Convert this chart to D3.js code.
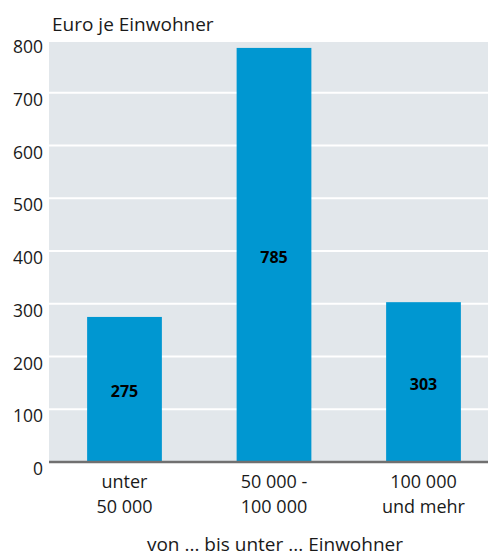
<!DOCTYPE html>
<html><head><meta charset="utf-8">
<script src="https://cdn.jsdelivr.net/npm/d3@7"></script>
<style>
html,body{margin:0;padding:0;background:#fff;}
svg{display:block;font-family:"Open Sans","Noto Sans",sans-serif;}
</style></head>
<body>
<svg id="c" width="488" height="558"></svg>
<script>
const categories = [["unter","50 000"],["50 000 -","100 000"],["100 000","und mehr"]];
const values = [275, 785, 303];
const yTicks = [0,100,200,300,400,500,600,700,800];
const yTitle = "Euro je Einwohner";
const xTitle = "von ... bis unter ... Einwohner";

const svg = d3.select("#c");
const x = d3.scaleBand().domain(d3.range(values.length)).range([49.75, 498.25]).paddingInner(0.5).paddingOuter(0.25);
const y = d3.scaleLinear().domain([0,800]).range([462, 40]);

svg.append("rect").attr("x",49).attr("y",y(800)+2).attr("width",488-49).attr("height",y(0)-y(800)-2).attr("fill","#e2e7eb");

svg.append("g").selectAll("line").data(yTicks.filter(d=>d>0)).join("line")
  .attr("x1",49).attr("x2",488).attr("y1",d=>y(d)).attr("y2",d=>y(d))
  .attr("stroke","#fff").attr("stroke-width",2);

svg.append("g").selectAll("text").data(yTicks).join("text")
  .attr("x",43).attr("y",d=>y(d)+13).attr("text-anchor","end")
  .attr("font-size",17.5).attr("fill","#1a1a1a").text(d=>d);

svg.append("g").selectAll("rect").data(values).join("rect")
  .attr("x",(d,i)=>x(i)).attr("width",x.bandwidth())
  .attr("y",d=>y(d)).attr("height",d=>y(0)-y(d)).attr("fill","#0097d1");

svg.append("g").selectAll("text").data(values).join("text")
  .attr("x",(d,i)=>x(i)+x.bandwidth()/2).attr("y",d=>(y(d)+y(0))/2+8)
  .attr("text-anchor","middle").attr("font-size",16).attr("font-weight","bold")
  .attr("fill","#000").text(d=>d);

svg.append("line").attr("x1",49).attr("x2",488).attr("y1",y(0)).attr("y2",y(0))
  .attr("stroke","#707070").attr("stroke-width",2.5);

const cat = svg.append("g").selectAll("text").data(categories).join("text")
  .attr("text-anchor","middle").attr("font-size",18).attr("fill","#1a1a1a");
cat.each(function(d,i){
  const t = d3.select(this);
  d.forEach((line,j)=>t.append("tspan").attr("x",x(i)+x.bandwidth()/2).attr("y",488+j*25).text(line));
});

svg.append("text").attr("x",52).attr("y",31).attr("font-size",19).attr("fill","#1a1a1a").text(yTitle);
svg.append("text").attr("x",x(1)+x.bandwidth()/2+1).attr("y",551).attr("text-anchor","middle")
  .attr("font-size",19).attr("fill","#1a1a1a").text(xTitle);
</script>
</body></html>
